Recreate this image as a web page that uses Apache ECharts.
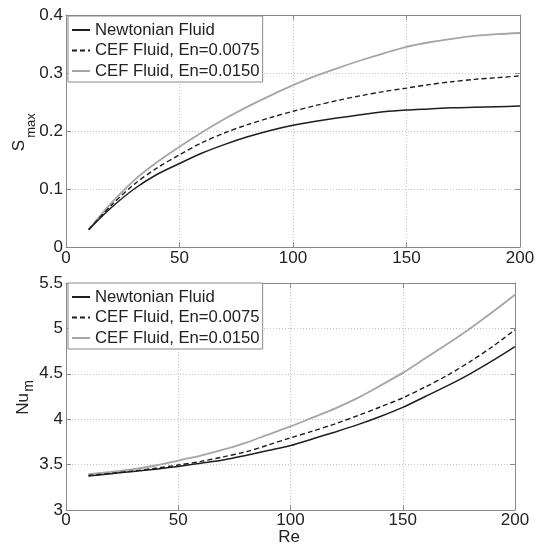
<!DOCTYPE html>
<html><head><meta charset="utf-8">
<script src="https://cdn.jsdelivr.net/npm/echarts@6/dist/echarts.min.js"></script>
<style>html,body{margin:0;padding:0;background:#fff}#c{width:540px;height:545px}</style>
</head><body><div id="c"></div>
<script>
// ---- data ----
const re = [10,20,30,40,50,60,70,80,90,100,110,120,130,140,150,160,170,180,190,200];
const seriesNames = ['Newtonian Fluid', 'CEF Fluid, En=0.0075', 'CEF Fluid, En=0.0150'];
const smaxNewtonian = [0.030,0.068,0.100,0.125,0.144,0.162,0.177,0.190,0.201,0.210,0.217,0.223,0.228,0.233,0.236,0.238,0.240,0.241,0.242,0.243];
const smaxEn0075   = [0.030,0.072,0.108,0.136,0.159,0.180,0.197,0.211,0.223,0.234,0.244,0.253,0.261,0.268,0.274,0.280,0.285,0.289,0.292,0.295];
const smaxEn0150   = [0.030,0.076,0.115,0.146,0.173,0.198,0.221,0.242,0.261,0.279,0.295,0.309,0.322,0.334,0.345,0.353,0.359,0.364,0.367,0.369];
const numNewtonian = [3.375,3.400,3.425,3.450,3.480,3.515,3.550,3.600,3.655,3.710,3.785,3.860,3.940,4.030,4.130,4.250,4.370,4.500,4.645,4.800];
const numEn0075    = [3.380,3.405,3.430,3.460,3.495,3.535,3.585,3.640,3.715,3.795,3.870,3.950,4.040,4.135,4.235,4.355,4.485,4.635,4.800,4.985];
const numEn0150    = [3.395,3.420,3.450,3.490,3.545,3.600,3.665,3.740,3.830,3.920,4.020,4.120,4.235,4.370,4.510,4.670,4.830,5.000,5.180,5.370];
const xTicks = {min: 0, max: 200, interval: 50};
const smaxTicks = {min: 0, max: 0.4, interval: 0.1};
const numTicks = {min: 3, max: 5.5, interval: 0.5};

// ---- styling ----
const FONT = 'Liberation Sans';
const FRAME = '#8a8a8a';
const lineStyles = [
  {color: '#1e1e1e', width: 1.5, type: 'solid'},
  {color: '#1e1e1e', width: 1.4, type: [5, 3]},
  {color: '#a6a6a6', width: 1.8, type: 'solid'}
];

function axisBase(main, ticks, gridIndex, position) {
  return {
    type: 'value', gridIndex: gridIndex, position: position,
    min: ticks.min, max: ticks.max, interval: ticks.interval,
    axisLine: {show: true, onZero: false, lineStyle: {color: FRAME, width: 1}},
    axisTick: {show: true, inside: true, length: 5, lineStyle: {color: FRAME}},
    axisLabel: {show: main, color: '#222', fontSize: 17, fontFamily: FONT, margin: 3, showMinLabel: true, showMaxLabel: true},
    splitLine: {show: main, lineStyle: {color: '#c4c4c4', width: 1, type: [1, 2]}}
  };
}

function pairs(ys) { return re.map((x, i) => [x, ys[i]]); }

const topSets = [smaxNewtonian, smaxEn0075, smaxEn0150];
const botSets = [numNewtonian, numEn0075, numEn0150];
const series = [];
topSets.forEach((d, i) => series.push({
  name: seriesNames[i], type: 'line', xAxisIndex: 0, yAxisIndex: 0,
  data: pairs(d), symbol: 'none', smooth: 0.3, lineStyle: lineStyles[i], itemStyle: {color: lineStyles[i].color},
  z: 3 - i
}));
botSets.forEach((d, i) => series.push({
  name: seriesNames[i], type: 'line', xAxisIndex: 2, yAxisIndex: 2,
  data: pairs(d), symbol: 'none', smooth: 0.3, lineStyle: lineStyles[i], itemStyle: {color: lineStyles[i].color},
  z: 3 - i
}));

function legendAt(top) {
  return {
    data: seriesNames, orient: 'vertical', left: 68, top: top,
    backgroundColor: '#fff', borderColor: FRAME, borderWidth: 1,
    padding: [5.5, 3, 2.5, 3], itemGap: 3.5, itemWidth: 18, itemHeight: 14,
    selectedMode: false, z: 10,
    itemStyle: {opacity: 0},
    textStyle: {fontSize: 16.7, fontFamily: FONT, color: '#222', lineHeight: 17}
  };
}

const option = {
  backgroundColor: '#fff',
  animation: false,
  grid: [
    {left: 66, top: 15, width: 454, height: 232},
    {left: 66, top: 283, width: 449, height: 227}
  ],
  xAxis: [
    axisBase(true, xTicks, 0, 'bottom'),
    axisBase(false, xTicks, 0, 'top'),
    Object.assign(axisBase(true, xTicks, 1, 'bottom'), {axisLabel: {color: '#222', fontSize: 17, fontFamily: FONT, margin: 2}}),
    axisBase(false, xTicks, 1, 'top')
  ],
  yAxis: [
    axisBase(true, smaxTicks, 0, 'left'),
    axisBase(false, smaxTicks, 0, 'right'),
    axisBase(true, numTicks, 1, 'left'),
    axisBase(false, numTicks, 1, 'right')
  ],
  legend: [legendAt(16), legendAt(283)],
  series: series,
  graphic: [
    {type: 'text', x: 19.5, y: 145.5, rotation: Math.PI / 2,
     style: {text: 'S', font: '17px "Liberation Sans"', fill: '#222', textAlign: 'center', textVerticalAlign: 'middle'}},
    {type: 'text', x: 31, y: 125.5, rotation: Math.PI / 2,
     style: {text: 'max', font: '13px "Liberation Sans"', fill: '#222', textAlign: 'center', textVerticalAlign: 'middle'}},
    {type: 'text', x: 23.5, y: 404, rotation: Math.PI / 2,
     style: {text: 'Nu', font: '17px "Liberation Sans"', fill: '#222', textAlign: 'center', textVerticalAlign: 'middle'}},
    {type: 'text', x: 29.5, y: 386, rotation: Math.PI / 2,
     style: {text: 'm', font: '14px "Liberation Sans"', fill: '#222', textAlign: 'center', textVerticalAlign: 'middle'}},
    {type: 'text', x: 289, y: 537.5,
     style: {text: 'Re', font: '17px "Liberation Sans"', fill: '#222', textAlign: 'center', textVerticalAlign: 'middle'}}
  ]
};
const chart = echarts.init(document.getElementById('c'), null, {renderer: 'canvas'});
chart.setOption(option);
</script>
</body></html>
